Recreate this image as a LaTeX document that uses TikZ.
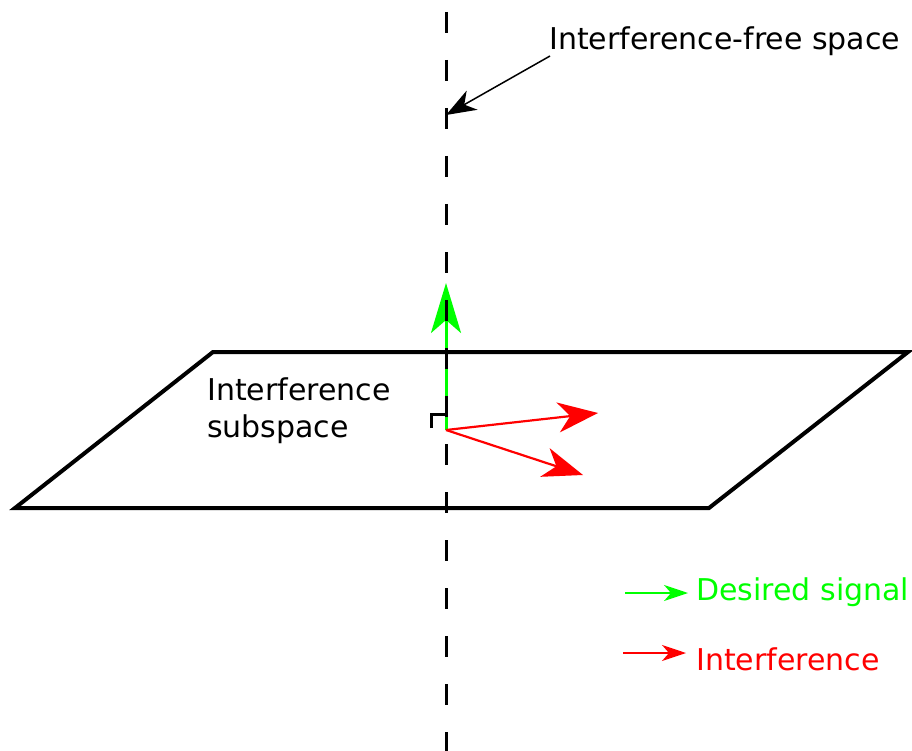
\documentclass[tikz,border=0pt]{standalone}
\usepackage{fontspec}
\setmainfont{DejaVu Sans}
\usetikzlibrary{arrows.meta}
\definecolor{sig}{RGB}{0,255,0}
\definecolor{intf}{RGB}{255,0,0}
\begin{document}
\begin{tikzpicture}[x=1pt,y=-1pt,
  lbl/.style={anchor=base west,inner sep=0pt,font=\fontsize{30}{37}\selectfont,align=left},
  bigtip/.style={-{Stealth[length=40pt,width=30pt,inset=12pt]}}]
\useasboundingbox (0,0) rectangle (912,751);
% plane
\coordinate (p1) at (15,508);
\coordinate (p2) at (213,352);
\coordinate (p3) at (908,352);
\coordinate (p4) at (709,508);
\draw[line width=4pt,line join=miter] (p1) -- (p2) -- (p3) -- (p4) -- cycle;
% origin and vectors
\coordinate (o) at (446,430);
\coordinate (g) at (446,283);
\coordinate (r1) at (598,413);
\coordinate (r2) at (583,475);
\draw[sig,line width=3pt,-{Stealth[length=50pt,width=30pt,inset=13pt]}] (o) -- (g);
\draw[intf,line width=2.2pt,bigtip] (o) -- (r1);
\draw[intf,line width=2.2pt,bigtip] (o) -- (r2);
% right angle
\coordinate (ra1) at (431,428);
\coordinate (ra2) at (431,414);
\coordinate (ra3) at (446,414);
\draw[line width=3pt] (ra1) -- (ra2) -- (ra3);
% dashed axis
\coordinate (top) at (446,0);
\coordinate (bot) at (446,751);
\draw[line width=3pt,dash pattern=on 21pt off 27pt,dash phase=36pt] (top) -- (bot);
% annotation
\node[lbl] (free) at (549,50) {Interference-free space};
\coordinate (fs) at (550,56);
\coordinate (fe) at (446,115);
\draw[line width=1.5pt,-{Stealth[length=30pt,width=22pt,inset=9pt]}] (fs) -- (fe);
% subspace label
\node[lbl] (sub) at (207,437) {Interference\\subspace};
% legend
\coordinate (lg1) at (625,593);
\coordinate (lg2) at (688,593);
\coordinate (lr1) at (623,653);
\coordinate (lr2) at (686,653);
\draw[sig,line width=1.5pt,-{Stealth[length=24pt,width=16pt,inset=7pt]}] (lg1) -- (lg2);
\draw[intf,line width=1.5pt,-{Stealth[length=24pt,width=16pt,inset=7pt]}] (lr1) -- (lr2);
\node[lbl,text=sig] (ds) at (696,600) {Desired signal};
\node[lbl,text=intf] (it) at (696,670) {Interference};
\end{tikzpicture}
\end{document}
